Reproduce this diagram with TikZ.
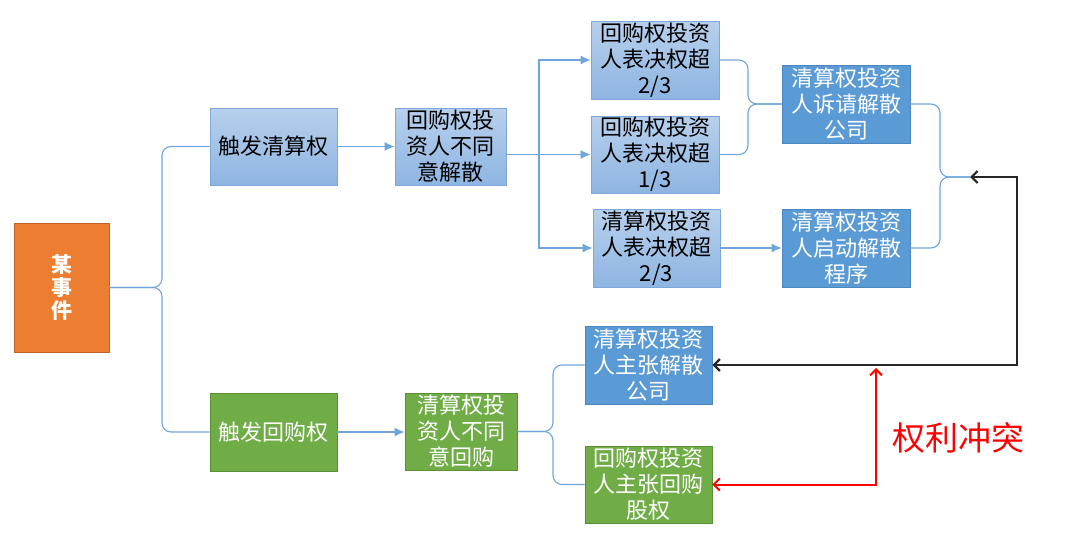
\documentclass[tikz,border=0pt]{standalone}
\usepackage{fontspec}
\setmainfont{Noto Sans CJK SC}
\usetikzlibrary{arrows.meta,positioning}

\definecolor{lighttop}{HTML}{B7D0EC}
\definecolor{lightbot}{HTML}{8EB5E2}
\definecolor{lightedge}{HTML}{7EA8DA}
\definecolor{darkbox}{HTML}{5B9BD5}
\definecolor{darkedge}{HTML}{4A86C0}
\definecolor{greenbox}{HTML}{70AD47}
\definecolor{greenedge}{HTML}{5A8F36}
\definecolor{orangebox}{HTML}{ED7D31}
\definecolor{orangeedge}{HTML}{C0652A}
\definecolor{linkblue}{HTML}{6FA5DB}

\begin{document}
\begin{tikzpicture}[%
    x=1pt, y=-1pt,               % pixel grid, y going down
    >={Latex[length=10pt,width=9pt]},
    ]
% -------------------------------------------------
% Box and connector styles
\tikzset{
  base/.style={draw, line width=0.8pt, inner sep=0pt, align=center,
    font=\fontsize{22}{26}\selectfont},
  light/.style={base, draw=lightedge, top color=lighttop, bottom color=lightbot,
    text=black},
  dark/.style={base, draw=darkedge, fill=darkbox, text=white},
  grn/.style={base, draw=greenedge, fill=greenbox, text=white},
  evtbox/.style={base, draw=orangeedge, fill=orangebox, text=white,
    font=\fontsize{21}{23}\selectfont\bfseries},
  % Connector line styles
  link/.style={draw=linkblue, line width=1.1pt, rounded corners=9pt},
  arr/.style={->, draw=linkblue, line width=1.1pt, color=linkblue},
  blk/.style={{Straight Barb[length=6pt,width=12pt]}-{Straight Barb[length=6pt,width=12pt]},
    line width=2.2pt, black!85},
  rd/.style={{Straight Barb[length=6pt,width=12pt]}-{Straight Barb[length=6pt,width=12pt]},
    line width=2pt, red},
  conflict/.style={text=red, font=\fontsize{33}{36}\selectfont}
}
\useasboundingbox (0,0) rectangle (1080,547);
% -------------------------------------------------
% Start by placing the nodes

\node [evtbox, minimum width=95, minimum height=129] (evt) at (61.5,287.5) {某\\事\\件};

\node [light, minimum width=127, minimum height=77] (liq) at (273.5,146.5) {触发清算权};
\node [light, minimum width=111, minimum height=77] (dis) at (450.5,146.5) {回购权投\\资人不同\\意解散};
\node [light, minimum width=128, minimum height=78] (rb23) at (655,60) {回购权投资\\人表决权超\\2/3};
\node [light, minimum width=128, minimum height=77] (rb13) at (655,154.5) {回购权投资\\人表决权超\\1/3};
\node [light, minimum width=127, minimum height=78] (lq23) at (656.5,248) {清算权投资\\人表决权超\\2/3};
\node [dark, minimum width=128, minimum height=78] (sue) at (846,104) {清算权投资\\人诉请解散\\公司};
\node [dark, minimum width=128, minimum height=78] (start) at (846,248) {清算权投资\\人启动解散\\程序};

\node [grn, minimum width=127, minimum height=78] (buy) at (273.5,432) {触发回购权};
\node [grn, minimum width=112, minimum height=77] (nobuy) at (461,431.5) {清算权投\\资人不同\\意回购};
\node [dark, minimum width=127, minimum height=78] (claimdis) at (648.5,365) {清算权投资\\人主张解散\\公司};
\node [grn, minimum width=127, minimum height=77] (claimbuy) at (648.5,484.5) {回购权投资\\人主张回购\\股权};

\node [conflict] (cf) at (958,438) {权利冲突};

% spines of the braces and corners of the long connectors
\coordinate (b1) at (162,0);
\coordinate (b2) at (539,0);
\coordinate (b3) at (748,0);
\coordinate (b4) at (940,0);
\coordinate (b5) at (553,0);
\coordinate (merge) at (970,177);
\coordinate (rc) at (1017,177);
\coordinate (up) at (876,368);

% -------------------------------------------------
% Connectors
\draw[link] (evt.east) -- (evt.east -| b1) |- (liq.west);		% brace, upper half
\draw[link] (evt.east) -- (evt.east -| b1) |- (buy.west);		% brace, lower half
\draw[arr] (liq.east) -- (dis.west);
\draw[arr] (buy.east) -- (buy.east -| nobuy.west);

\draw[arr] (dis.east |- rb13.west) -| (b2 |- rb23.west) -- (rb23.west);
\draw[arr] (dis.east |- rb13.west) -- (rb13.west);
\draw[arr] (dis.east |- rb13.west) -| (b2 |- lq23.west) -- (lq23.west);

\draw[link] (sue.west) -- (sue.west -| b3) |- (rb23.east);
\draw[link] (sue.west) -- (sue.west -| b3) |- (rb13.east);
\draw[arr] (lq23.east) -- (start.west);

\draw[link] (merge) -- (merge -| b4) |- (sue.east);
\draw[link] (merge) -- (merge -| b4) |- (start.east);

\draw[link] (nobuy.east) -- (nobuy.east -| b5) |- (claimdis.west);
\draw[link] (nobuy.east) -- (nobuy.east -| b5) |- (claimbuy.west);

\draw[blk] (merge) -- (rc) |- (claimdis.east);
\draw[rd] (up) |- (claimbuy.east);

% -------------------------------------------------
\end{tikzpicture}
\end{document}
